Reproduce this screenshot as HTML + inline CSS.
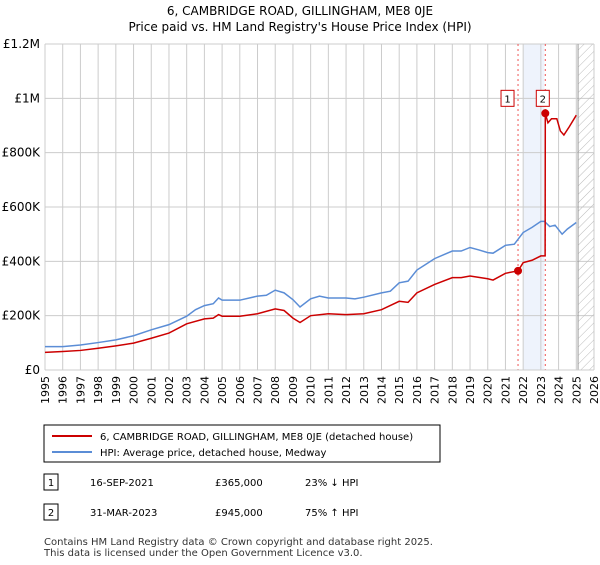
<!DOCTYPE html>
<html><head><meta charset="utf-8"><style>
body{margin:0;background:#fff;font-family:"Liberation Sans","DejaVu Sans",sans-serif;}
svg text{font-family:"DejaVu Sans","Liberation Sans",sans-serif;}
</style></head><body>
<svg id="c" width="600" height="560" xmlns="http://www.w3.org/2000/svg">
<text x="300" y="15" text-anchor="middle" font-size="12">6, CAMBRIDGE ROAD, GILLINGHAM, ME8 0JE</text>
<text x="300" y="31" text-anchor="middle" font-size="12">Price paid vs. HM Land Registry's House Price Index (HPI)</text>
<g id="plot"></g>
<g>
<rect x="44" y="425" width="396" height="37" fill="#fff" stroke="#000" stroke-width="1"/>
<line x1="52" y1="436" x2="92" y2="436" stroke="#cc0000" stroke-width="2"/>
<text x="100" y="440" font-size="10">6, CAMBRIDGE ROAD, GILLINGHAM, ME8 0JE (detached house)</text>
<line x1="52" y1="452" x2="92" y2="452" stroke="#5b8dd6" stroke-width="2"/>
<text x="100" y="456" font-size="10">HPI: Average price, detached house, Medway</text>
</g>
<g font-size="10">
<rect x="44" y="474" width="14" height="16" fill="#fff" stroke="#000"/><text x="51" y="486" text-anchor="middle">1</text>
<text x="90" y="486">16-SEP-2021</text><text x="215" y="486">£365,000</text><text x="305" y="486">23% ↓ HPI</text>
<rect x="44" y="504" width="14" height="16" fill="#fff" stroke="#000"/><text x="51" y="516" text-anchor="middle">2</text>
<text x="90" y="516">31-MAR-2023</text><text x="215" y="516">£945,000</text><text x="305" y="516">75% ↑ HPI</text>
</g>
<text x="44" y="545" font-size="10" fill="#333">Contains HM Land Registry data © Crown copyright and database right 2025.</text>
<text x="44" y="556" font-size="10" fill="#333">This data is licensed under the Open Government Licence v3.0.</text>
</svg>
<script>
const hpiYears=[1995,1996,1997,1998,1999,2000,2001,2002,2003,2003.5,2004,2004.5,2004.8,2005,2006,2007,2007.5,2008,2008.5,2009,2009.4,2010,2010.5,2011,2012,2012.5,2013,2014,2014.5,2015,2015.5,2016,2016.5,2017,2018,2018.5,2019,2019.5,2020,2020.3,2021,2021.5,2022,2022.5,2023,2023.2,2023.5,2023.8,2024.2,2024.5,2025];
const hpiValues=[86,86,92,101,111,126,148,167,198,222,237,244,265,257,257,272,275,294,284,259,232,262,272,265,265,262,268,284,290,321,327,368,389,410,438,438,451,442,432,430,459,463,506,525,547,547,528,533,500,519,543];
const priceYears=[1995,1996,1997,1998,1999,2000,2001,2002,2003,2004,2004.5,2004.8,2005,2006,2007,2008,2008.5,2009,2009.4,2010,2011,2012,2013,2014,2015,2015.5,2016,2017,2018,2018.5,2019,2020,2020.3,2021,2021.71,2022,2022.5,2023,2023.24,2023.25,2023.4,2023.6,2023.9,2024.1,2024.3,2024.6,2025];
const priceValues=[65,68,72,80,89,99,117,136,170,188,191,204,198,198,207,225,219,191,175,200,207,204,207,222,253,249,284,315,340,340,346,336,331,356,365,395,404,420,420,945,910,925,925,880,865,895,938];
const saleYears=[2021.71,2023.25];
const saleValues=[365,945];
const saleLabels=["1","2"];
const yTicks=[0,200,400,600,800,1000,1200];
const yTickLabels=["£0","£200K","£400K","£600K","£800K","£1M","£1.2M"];
const xTicks=[];for(let y=1995;y<=2026;y++)xTicks.push(y);

const X0=45,X1=594,Y0=370,Y1=44;
const x=v=>X0+(v-1995)*(X1-X0)/31;
const y=v=>Y0-(v/1200)*(Y0-Y1);
const NS="http://www.w3.org/2000/svg";
const g=document.getElementById('plot');
function mk(t,a,p){const e=document.createElementNS(NS,t);for(const k in a)e.setAttribute(k,a[k]);(p||g).appendChild(e);return e;}

const shade=mk('rect',{x:x(2022),y:Y1,width:x(2023.2)-x(2022),height:Y0-Y1,fill:'#eef3fc'});


xTicks.forEach(t=>{
 const l=mk('line',{x1:x(t),y1:Y1,x2:x(t),y2:Y0,stroke:'#cccccc','stroke-width':1});
 
 
 const tx=mk('text',{x:0,y:0,'font-size':11,'text-anchor':'end',transform:`translate(${x(t)+4},${Y0+6}) rotate(-90)`});
 tx.textContent=t;
 
 
});
yTicks.forEach((t,i)=>{
 const l=mk('line',{x1:X0,y1:y(t),x2:X1,y2:y(t),stroke:'#cccccc','stroke-width':1});
 
 
 const tx=mk('text',{x:X0-5,y:y(t)+4,'font-size':12,'text-anchor':'end'});
 tx.textContent=yTickLabels[i];
 
 
});
// hatch future
const defs=mk('defs',{});
const pat=mk('pattern',{id:'h',width:6,height:6,patternUnits:'userSpaceOnUse',patternTransform:'rotate(45)'},defs);
mk('line',{x1:0,y1:0,x2:0,y2:6,stroke:'#bbb','stroke-width':1},pat);
const hatch=mk('rect',{x:x(2025.1),y:Y1,width:X1-x(2025.1),height:Y0-Y1,fill:'url(#h)'});


mk('line',{x1:x(2025.1),y1:Y1,x2:x(2025.1),y2:Y0,stroke:'#999','stroke-width':1});
saleYears.forEach(s=>{
 const l=mk('line',{x1:x(s),y1:Y1,x2:x(s),y2:Y0,stroke:'#ee5555','stroke-width':1,'stroke-dasharray':'2,3'});
 
 
});
const hp=mk('polyline',{points:hpiYears.map((v,i)=>x(v)+','+y(hpiValues[i])).join(' '),fill:'none',stroke:'#5b8dd6','stroke-width':1.5});


const pp=mk('polyline',{points:priceYears.map((v,i)=>x(v)+','+y(priceValues[i])).join(' '),fill:'none',stroke:'#cc0000','stroke-width':1.5});


saleYears.forEach((s,i)=>{
 const c=mk('circle',{cx:x(s),cy:y(saleValues[i]),r:4,fill:'#cc0000'});
 
 
 const bx=x(s)-(i==0?11:3);
 const r=mk('rect',{x:bx-6,y:y(1000)-8,width:13,height:16,fill:'#fff',stroke:'#cc0000'});
 
 
 const t=mk('text',{x:bx+0.5,y:y(1000)+4,'font-size':10,'text-anchor':'middle'});
 t.textContent=saleLabels[i];
 
 
});
mk('line',{x1:X0,y1:Y0,x2:X1,y2:Y0,stroke:'#ccc'});
</script>
</body></html>
